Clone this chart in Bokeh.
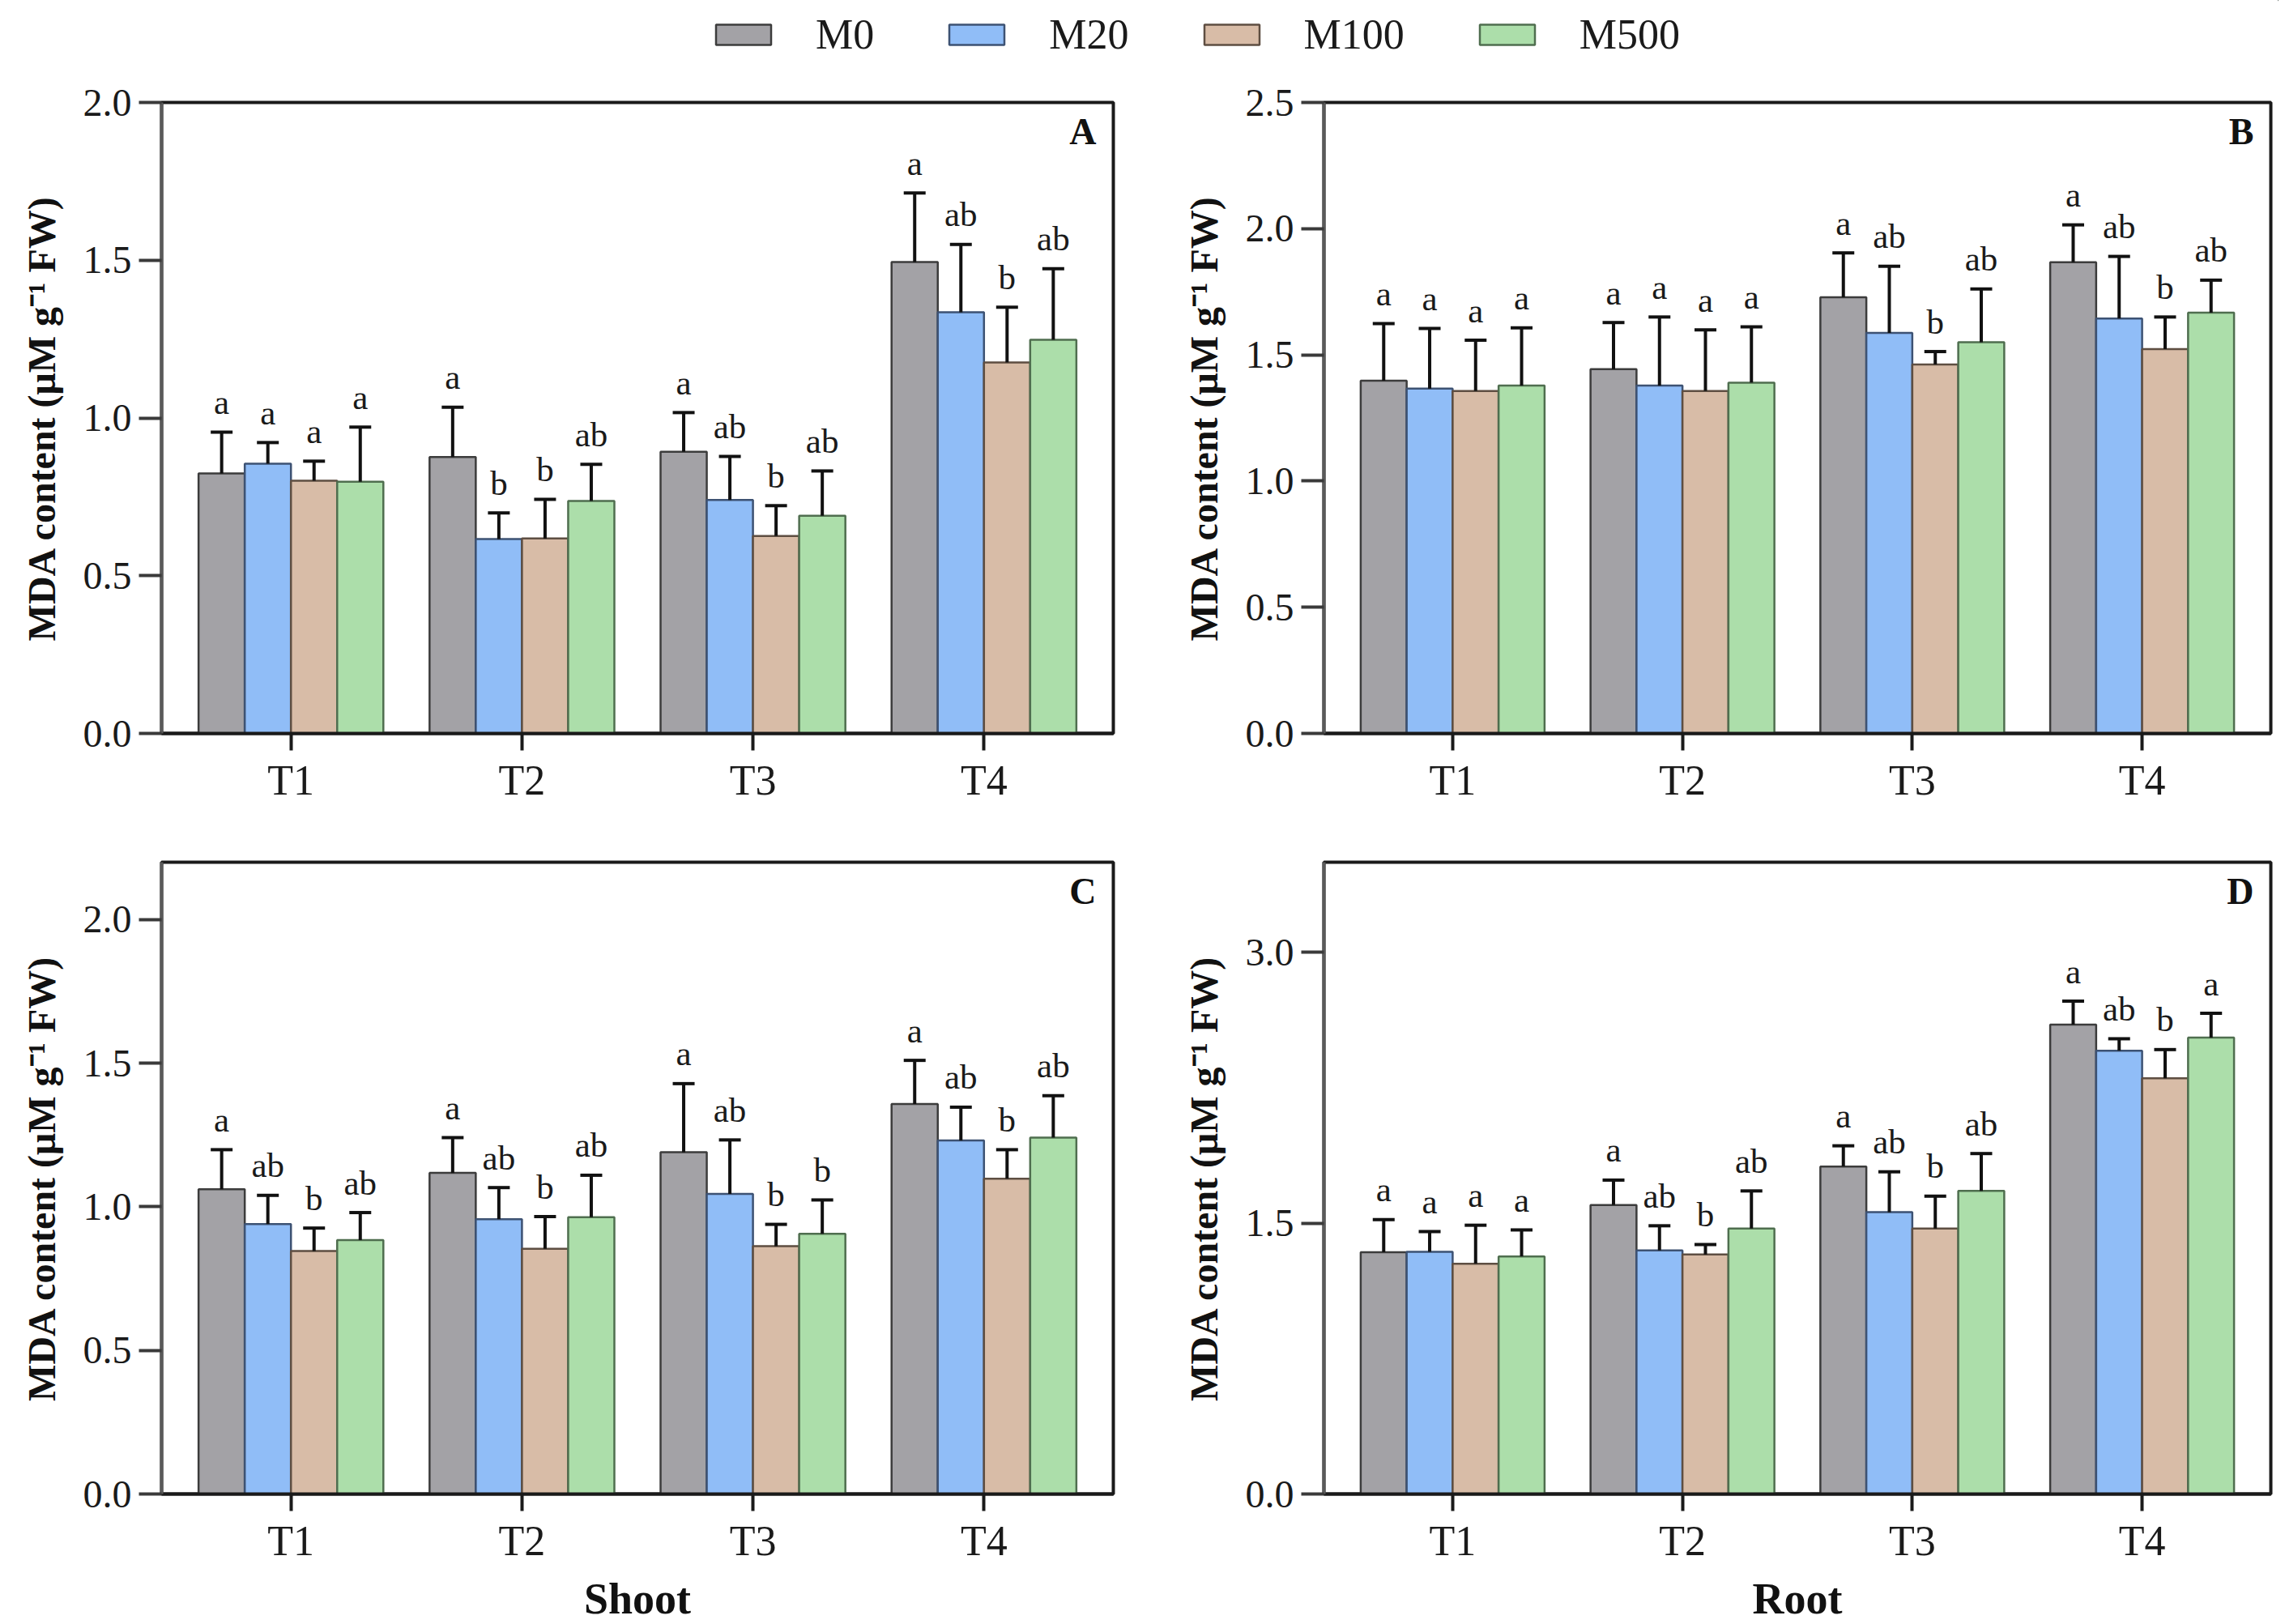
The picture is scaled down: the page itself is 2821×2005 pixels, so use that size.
from bokeh.plotting import figure
from bokeh.models import (ColumnDataSource, Range1d, FixedTicker, Whisker, TeeHead,
                          Label, Legend, LegendItem, NumeralTickFormatter)
from bokeh.transform import dodge
from bokeh.layouts import column, row
from bokeh.core.properties import value
from bokeh.embed import file_html
from bokeh.resources import INLINE

groups = ["T1", "T2", "T3", "T4"]
series = ["M0", "M20", "M100", "M500"]
fill_colors = ["#a3a2a6", "#90bdf7", "#d8bca7", "#acdeaa"]
line_colors = ["#3c3c3c", "#3d5273", "#5e4e42", "#4f6e4f"]

# Panel A (Shoot)
A_mean = {"M0": [0.824, 0.876, 0.893, 1.494], "M20": [0.855, 0.616, 0.740, 1.335],
          "M100": [0.801, 0.618, 0.626, 1.176], "M500": [0.798, 0.737, 0.690, 1.248]}
A_sd = {"M0": [0.131, 0.158, 0.124, 0.219], "M20": [0.067, 0.083, 0.138, 0.215],
        "M100": [0.062, 0.124, 0.096, 0.175], "M500": [0.173, 0.116, 0.142, 0.225]}
A_letters = {"M0": ["a", "a", "a", "a"], "M20": ["a", "b", "ab", "ab"],
             "M100": ["a", "b", "b", "b"], "M500": ["a", "ab", "ab", "ab"]}

# Panel B (Root)
B_mean = {"M0": [1.398, 1.443, 1.728, 1.867], "M20": [1.366, 1.378, 1.587, 1.644],
          "M100": [1.357, 1.357, 1.462, 1.523], "M500": [1.378, 1.390, 1.550, 1.667]}
B_sd = {"M0": [0.226, 0.185, 0.176, 0.148], "M20": [0.239, 0.272, 0.264, 0.246],
        "M100": [0.201, 0.242, 0.051, 0.127], "M500": [0.229, 0.221, 0.211, 0.129]}
B_letters = {"M0": ["a", "a", "a", "a"], "M20": ["a", "a", "ab", "ab"],
             "M100": ["a", "a", "b", "b"], "M500": ["a", "a", "ab", "ab"]}

# Panel C (Shoot)
C_mean = {"M0": [1.061, 1.118, 1.190, 1.358], "M20": [0.940, 0.957, 1.045, 1.231],
          "M100": [0.846, 0.854, 0.863, 1.098], "M500": [0.884, 0.964, 0.906, 1.241]}
C_sd = {"M0": [0.138, 0.123, 0.239, 0.152], "M20": [0.100, 0.110, 0.188, 0.116],
        "M100": [0.080, 0.112, 0.076, 0.101], "M500": [0.096, 0.146, 0.118, 0.146]}
C_letters = {"M0": ["a", "a", "a", "a"], "M20": ["ab", "ab", "ab", "ab"],
             "M100": ["b", "b", "b", "b"], "M500": ["ab", "ab", "b", "ab"]}

# Panel D (Root)
D_mean = {"M0": [1.339, 1.601, 1.814, 2.600], "M20": [1.342, 1.350, 1.561, 2.456],
          "M100": [1.276, 1.327, 1.471, 2.303], "M500": [1.316, 1.471, 1.679, 2.528]}
D_sd = {"M0": [0.181, 0.138, 0.115, 0.130], "M20": [0.112, 0.136, 0.224, 0.066],
        "M100": [0.213, 0.055, 0.179, 0.159], "M500": [0.147, 0.208, 0.207, 0.135]}
D_letters = {"M0": ["a", "a", "a", "a"], "M20": ["a", "ab", "ab", "ab"],
             "M100": ["a", "b", "b", "b"], "M500": ["a", "ab", "ab", "a"]}

A_yticks = [0.0, 0.5, 1.0, 1.5, 2.0]
B_yticks = [0.0, 0.5, 1.0, 1.5, 2.0, 2.5]
C_yticks = [0.0, 0.5, 1.0, 1.5, 2.0]
D_yticks = [0.0, 1.5, 3.0]

FONT = "Liberation Serif"
YLABEL = "MDA content (\u03bcM g\u207b\u00b9 FW)"
offsets = [-0.3, -0.1, 0.1, 0.3]


def panel(mean, sd, letters, y_end, yticks, tag, frame_w, frame_h,
          border_left, border_right, border_top, border_bottom, xlabel=None):
    p = figure(frame_width=frame_w, frame_height=frame_h,
               x_range=Range1d(-0.56, 3.56), y_range=Range1d(0, y_end),
               output_backend="svg", toolbar_location=None,
               min_border_left=border_left, min_border_right=border_right,
               min_border_top=border_top, min_border_bottom=border_bottom,
               background_fill_color="white", border_fill_color="white")
    p.xgrid.visible = False
    p.ygrid.visible = False
    p.outline_line_color = "#1a1a1a"
    p.outline_line_width = 4

    for s, off, fc, lc in zip(series, offsets, fill_colors, line_colors):
        upper = [m + e for m, e in zip(mean[s], sd[s])]
        src = ColumnDataSource(dict(xi=list(range(len(groups))), mean=mean[s],
                                    upper=upper, letter=letters[s]))
        xpos = dodge("xi", off, range=p.x_range)
        p.vbar(x=xpos, top="mean", bottom=0, width=0.2, fill_color=fc,
               line_color=lc, line_width=2.5, source=src)
        w = Whisker(base=xpos, upper="upper", lower="mean", source=src,
                    line_width=4, line_color="#111111", level="glyph",
                    upper_head=TeeHead(size=27, line_width=4, line_color="#111111"),
                    lower_head=None)
        p.add_layout(w)
        p.text(x=xpos, y="upper", text="letter", source=src, text_align="center",
               text_baseline="alphabetic", y_offset=-37,
               text_font=value(FONT), text_font_size="43px", text_color="#1a1a1a")

    p.add_layout(Label(x=p.x_range.end, y=p.y_range.end, x_offset=-21, y_offset=-10,
                       text=tag, text_align="right", text_baseline="top",
                       text_font=FONT, text_font_size="46px", text_font_style="bold",
                       text_color="#111111"))

    xa = p.xaxis[0]
    xa.ticker = FixedTicker(ticks=list(range(len(groups))))
    xa.major_label_overrides = {i: g for i, g in enumerate(groups)}
    xa.axis_line_width = 4
    xa.axis_line_color = "#1a1a1a"
    xa.major_tick_line_width = 4
    xa.major_tick_line_color = "#1a1a1a"
    xa.major_tick_out = 21
    xa.major_tick_in = 0
    xa.minor_tick_line_color = None
    xa.major_label_text_font = FONT
    xa.major_label_text_font_size = "52px"
    xa.major_label_text_color = "#1a1a1a"
    xa.major_label_standoff = 8
    if xlabel:
        xa.axis_label = xlabel
        xa.axis_label_text_font = FONT
        xa.axis_label_text_font_size = "54px"
        xa.axis_label_text_font_style = "bold"
        xa.axis_label_text_color = "#111111"
        xa.axis_label_standoff = 10

    ya = p.yaxis[0]
    ya.ticker = FixedTicker(ticks=yticks)
    ya.formatter = NumeralTickFormatter(format="0.0")
    ya.axis_line_width = 4
    ya.axis_line_color = "#5a5a5a"
    ya.major_tick_line_width = 4
    ya.major_tick_line_color = "#3a3a3a"
    ya.major_tick_out = 28
    ya.major_tick_in = 0
    ya.minor_tick_line_color = None
    ya.major_label_text_font = FONT
    ya.major_label_text_font_size = "48px"
    ya.major_label_text_color = "#1a1a1a"
    ya.major_label_standoff = 9
    ya.axis_label = YLABEL
    ya.axis_label_text_font = FONT
    ya.axis_label_text_font_size = "48px"
    ya.axis_label_text_font_style = "bold"
    ya.axis_label_text_color = "#111111"
    ya.axis_label_standoff = 22
    return p


# Legend strip
leg = figure(width=2813, height=78, output_backend="svg", toolbar_location=None,
             min_border=0, x_range=Range1d(0, 1), y_range=Range1d(0, 1),
             x_axis_location=None, y_axis_location=None)
leg.outline_line_color = None
leg.xgrid.visible = False
leg.ygrid.visible = False
items = []
for s, fc, lc in zip(series, fill_colors, line_colors):
    # legend-only renderers: their single bar sits outside the visible range
    r = leg.vbar(x=[5], top=[5], bottom=[4], width=0.1, fill_color=fc,
                 line_color=lc, line_width=2.5)
    items.append(LegendItem(label=s, renderers=[r]))
legend = Legend(items=items, orientation="horizontal", location=(875, 6),
                glyph_width=85, glyph_height=31, label_standoff=47, spacing=84,
                padding=0, margin=0, border_line_color=None, background_fill_alpha=0,
                label_text_font=FONT, label_text_font_size="52px",
                label_text_color="#1a1a1a")
leg.add_layout(legend)

pA = panel(A_mean, A_sd, A_letters, 2.0, A_yticks, "A", 1175, 779, 199, 61, 48, 100)
pB = panel(B_mean, B_sd, B_letters, 2.5, B_yticks, "B", 1169, 779, 199, 10, 48, 100)
pC = panel(C_mean, C_sd, C_letters, 2.2, C_yticks, "C", 1175, 780, 199, 61, 59, 157, "Shoot")
pD = panel(D_mean, D_sd, D_letters, 3.5, D_yticks, "D", 1169, 780, 199, 10, 59, 157, "Root")

layout = column(leg, row(pA, pB), row(pC, pD))
open("out.html", "w").write(file_html(layout, INLINE))
